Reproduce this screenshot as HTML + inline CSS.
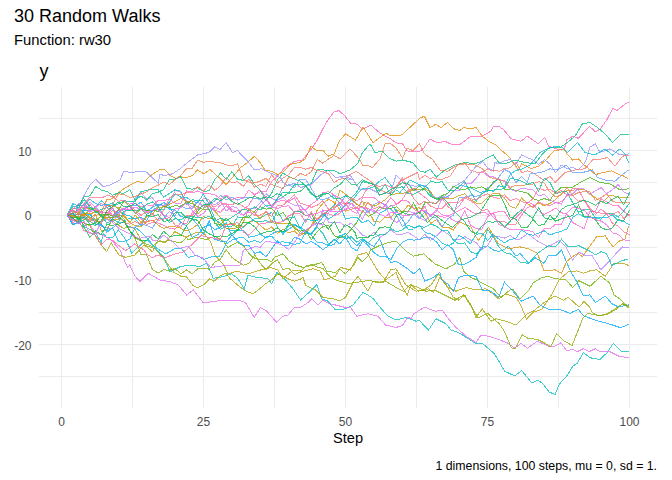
<!DOCTYPE html>
<html><head><meta charset="utf-8"><style>
html,body{margin:0;padding:0;background:#fff;}
body{width:672px;height:480px;position:relative;overflow:hidden;font-family:"Liberation Sans",sans-serif;}
.t{position:absolute;white-space:nowrap;color:#000;}
#title{left:14px;top:6px;font-size:18px;}
#sub{left:14px;top:32px;font-size:14.8px;}
#ylab{left:39.5px;top:61px;font-size:18px;}
#xlab{left:333px;top:430px;font-size:14.6px;}
#cap{right:15px;top:459px;font-size:12.3px;}
.yl{position:absolute;right:640.5px;width:40px;text-align:right;font-size:12px;color:#4D4D4D;line-height:14px;}
.xl{position:absolute;top:415px;width:40px;text-align:center;font-size:12px;color:#4D4D4D;line-height:14px;}
svg{position:absolute;left:0;top:0;}
</style></head><body>
<svg width="672" height="480" viewBox="0 0 672 480"><g stroke="#EBEBEB" stroke-width="1" shape-rendering="crispEdges"><line x1="61.5" y1="87" x2="61.5" y2="408"/><line x1="132.5" y1="87" x2="132.5" y2="408"/><line x1="203.5" y1="87" x2="203.5" y2="408"/><line x1="274.5" y1="87" x2="274.5" y2="408"/><line x1="345.5" y1="87" x2="345.5" y2="408"/><line x1="416.5" y1="87" x2="416.5" y2="408"/><line x1="487.5" y1="87" x2="487.5" y2="408"/><line x1="558.5" y1="87" x2="558.5" y2="408"/><line x1="629.5" y1="87" x2="629.5" y2="408"/><line x1="39" y1="118.5" x2="657" y2="118.5"/><line x1="39" y1="150.5" x2="657" y2="150.5"/><line x1="39" y1="182.5" x2="657" y2="182.5"/><line x1="39" y1="215.5" x2="657" y2="215.5"/><line x1="39" y1="247.5" x2="657" y2="247.5"/><line x1="39" y1="279.5" x2="657" y2="279.5"/><line x1="39" y1="312.5" x2="657" y2="312.5"/><line x1="39" y1="344.5" x2="657" y2="344.5"/><line x1="39" y1="376.5" x2="657" y2="376.5"/></g><g fill="none" stroke-width="1" stroke-opacity="0.75" shape-rendering="crispEdges"><polyline points="67.2,215.2 72.9,212.6 78.5,209.7 84.2,210.5 89.9,204.5 95.6,211.6 101.3,212.5 106.9,212.2 112.6,216.7 118.3,209.5 124.0,208.4 129.7,206.1 135.3,212.3 141.0,218.3 146.7,224.5 152.4,222.5 158.1,222.9 163.7,225.5 169.4,228.2 175.1,229.1 180.8,222.8 186.5,223.7 192.1,213.0 197.8,207.1 203.5,198.4 209.2,200.0 214.9,210.1 220.5,212.4 226.2,205.8 231.9,211.3 237.6,211.0 243.3,209.3 248.9,205.4 254.6,194.9 260.3,191.7 266.0,191.8 271.7,181.4 277.3,176.4 284.0,168.3 294.0,161.7 302.3,160.0 310.7,150.0 317.3,140.0 325.7,123.3 334.0,111.7 339.0,110.7 344.0,115.0 350.7,123.3 356.9,124.1 362.5,129.2 368.2,126.4 370.7,125.0 380.0,133.1 385.6,136.2 389.4,138.1 393.8,141.2 397.5,143.1 402.5,143.8 406.9,150.6 411.2,151.9 416.2,151.9 420.0,151.2 423.8,148.1 430.0,138.8 435.0,141.9 440.0,142.5 445.0,141.2 450.0,143.8 455.0,145.0 460.0,144.4 471.0,136.2 482.2,136.2 491.0,131.2 493.2,126.8 498.9,126.4 503.5,129.5 511.0,138.8 521.0,141.2 527.2,136.2 538.5,143.8 544.8,137.5 548.5,146.2 556.0,148.8 564.0,150.0 567.0,139.5 572.7,136.3 578.4,138.3 584.1,132.2 589.7,126.5 595.4,131.9 600.0,129.2 606.7,120.0 612.7,108.5 616.9,110.5 625.0,104.2 628.6,102.3" stroke="#FF62BC"/><polyline points="67.2,215.2 72.9,219.7 78.5,219.1 84.2,212.9 89.9,213.7 95.6,212.0 101.3,211.2 106.9,199.7 110.0,200.0 122.0,190.0 130.0,185.0 137.5,181.2 143.0,183.1 150.0,176.0 160.0,169.5 165.0,170.0 170.0,175.5 176.2,178.8 180.0,176.2 185.0,178.0 192.5,175.5 197.5,170.0 203.8,173.8 210.0,169.5 217.5,176.2 226.2,184.5 232.5,177.5 240.0,168.0 247.5,162.5 254.5,156.2 260.0,162.5 265.0,170.0 271.2,171.2 277.5,174.5 283.0,172.3 290.0,164.5 300.0,162.5 305.0,158.8 311.2,146.2 315.5,150.0 323.0,150.5 328.0,156.2 334.2,153.8 339.2,141.2 345.5,133.8 355.5,140.0 363.0,127.0 373.0,142.5 380.0,137.5 386.2,133.1 390.0,135.6 398.8,135.6 402.5,134.4 411.2,126.2 420.0,118.1 424.4,116.2 430.0,127.5 435.6,124.4 441.2,127.5 447.5,122.5 453.8,128.8 460.0,130.6 463.5,127.5 471.0,128.8 476.0,127.5 482.2,136.2 488.5,141.2 496.0,145.0 501.0,150.0 508.5,156.2 518.5,170.0 521.6,163.7 527.3,166.4 531.0,168.8 538.5,166.2 546.0,160.0 553.5,151.2 564.0,148.8 567.0,153.8 572.7,160.1 578.4,159.0 584.1,164.9 589.7,169.4 595.4,174.6 600.0,173.3 611.7,170.8 620.0,175.0 623.3,175.8 628.6,179.2" stroke="#E58700"/><polyline points="67.2,215.2 72.9,217.6 78.5,215.9 84.2,226.8 89.9,229.4 95.6,232.8 101.3,242.3 103.3,233.3 106.9,237.8 112.6,237.6 118.3,230.0 124.0,236.9 129.7,247.8 131.7,253.3 138.3,246.7 146.7,240.0 156.7,250.0 163.3,256.7 170.0,271.7 180.0,266.7 190.0,265.0 200.0,266.7 206.7,263.3 213.3,278.3 223.3,276.7 231.8,273.8 238.0,278.8 244.2,288.8 248.0,275.0 254.6,277.0 260.5,277.5 268.0,278.8 271.8,283.8 276.8,272.5 285.5,280.0 293.0,288.8 300.5,300.0 310.5,291.2 316.8,284.5 321.8,298.8 328.0,301.2 335.5,310.0 345.5,308.8 353.0,305.0 363.0,292.5 368.2,295.2 373.9,299.3 378.0,305.0 388.0,316.2 396.0,320.0 406.0,317.5 416.0,321.2 419.3,320.3 425.0,326.6 428.5,330.0 436.0,318.8 446.0,323.8 451.0,330.0 458.5,332.5 468.5,338.8 476.0,343.8 482.3,343.3 494.0,353.3 500.0,363.1 504.5,371.2 514.9,376.0 521.6,370.5 532.0,383.2 537.9,380.2 543.2,383.9 549.1,392.1 555.1,394.3 559.5,383.9 567.0,375.7 572.9,366.0 577.4,363.1 583.3,352.6 589.3,357.1 593.0,358.6 600.0,359.3 606.8,353.0 613.3,343.3 621.7,351.7 628.6,351.7" stroke="#00BFC4"/><polyline points="67.2,215.2 72.9,220.4 78.5,222.7 84.2,222.9 90.0,225.0 95.6,233.4 101.3,234.3 106.9,237.7 110.0,238.8 120.0,250.0 127.5,267.5 129.7,264.9 135.3,276.5 140.0,281.7 148.3,273.3 160.0,280.0 170.0,281.7 178.3,285.0 186.7,295.0 193.3,290.0 203.3,302.7 213.3,301.7 223.3,300.0 228.0,300.0 238.0,300.0 245.5,302.5 254.2,317.5 260.5,307.5 266.8,311.2 276.8,322.5 283.0,316.2 288.0,315.0 294.2,307.5 300.5,307.5 308.0,302.5 311.8,298.8 318.0,305.0 323.0,300.0 328.5,303.4 335.5,305.0 345.5,307.5 350.5,307.5 356.8,316.2 368.0,313.8 378.0,316.2 385.5,325.0 396.0,327.5 402.3,325.5 408.0,317.0 411.0,318.8 413.7,313.9 419.3,310.4 425.0,306.9 428.5,308.8 436.0,311.2 442.1,310.0 448.5,318.8 456.0,327.5 466.0,336.2 476.0,342.5 481.0,335.0 488.5,336.2 496.0,338.8 500.0,340.0 507.4,343.0 514.9,348.2 520.8,343.3 527.5,348.2 537.2,341.2 543.2,343.7 549.9,347.1 555.1,346.0 561.0,342.7 566.2,350.4 572.9,349.7 577.4,351.6 583.3,348.6 589.3,351.6 595.2,348.6 600.0,351.9 610.0,351.7 620.0,356.7 628.6,357.3" stroke="#E76BF3"/><polyline points="67.2,215.2 72.9,215.7 78.5,213.2 84.2,206.6 89.9,209.1 95.6,210.3 101.3,215.1 106.9,215.2 112.6,218.3 118.3,214.0 124.0,218.6 129.7,230.7 135.3,237.9 141.0,241.0 146.7,244.3 152.4,246.4 158.1,241.7 163.7,241.9 169.4,240.2 174.8,241.8 180.8,242.7 186.5,237.7 188.2,239.6 197.1,237.3 206.1,239.6 215.0,236.2 223.9,241.8 228.0,247.5 236.8,242.5 243.3,245.6 248.9,253.5 253.0,257.5 260.5,260.0 266.0,259.2 271.7,261.6 274.2,257.5 283.0,253.8 288.7,260.6 295.5,265.0 303.0,267.5 313.0,265.0 321.8,262.5 326.8,271.2 335.5,272.5 339.2,268.8 345.5,273.8 353.0,266.2 358.0,257.5 362.5,261.8 368.2,256.0 370.5,250.0 378.0,246.2 388.0,242.5 396.0,241.2 406.0,251.2 413.5,256.2 423.5,253.8 434.8,263.8 446.0,268.8 454.8,263.8 459.8,257.5 463.5,271.2 471.0,277.5 476.1,279.7 483.5,283.8 493.5,288.8 501.0,297.5 504.5,294.4 510.2,289.8 513.5,290.0 520.0,299.3 528.7,290.6 533.1,282.9 541.9,277.5 548.4,276.4 555.0,278.6 565.9,279.6 572.5,287.3 579.0,280.7 590.0,286.2 600.9,276.4 609.6,282.9 614.0,295.0 620.5,299.3 624.9,303.7 628.6,307.0" stroke="#6BB100"/><polyline points="67.2,215.2 72.9,215.8 78.5,216.8 84.2,219.8 89.9,216.4 95.6,210.0 101.3,217.6 106.9,218.5 112.6,221.0 118.3,225.3 124.0,228.4 129.7,226.1 135.3,229.5 141.0,240.0 145.8,246.2 152.5,251.8 158.1,239.5 163.7,242.8 165.9,241.8 174.8,231.7 186.0,237.3 194.9,232.9 203.8,232.9 210.5,241.8 215.0,255.2 223.9,265.2 228.0,273.8 236.8,271.2 248.0,273.8 254.6,271.8 260.5,270.0 270.5,267.5 278.0,270.0 283.0,278.8 293.0,270.0 303.0,271.2 313.0,268.8 320.5,271.2 324.2,280.0 335.5,276.2 340.5,267.5 350.5,270.0 358.0,255.0 366.8,252.5 378.0,271.2 385.5,280.0 396.0,272.5 401.0,285.0 407.2,295.0 411.0,285.0 418.5,291.2 428.5,288.8 433.5,292.5 439.8,277.5 448.5,287.5 456.0,291.2 466.0,287.5 476.0,290.0 486.0,288.8 493.2,293.9 498.5,298.8 506.0,293.8 516.0,297.5 520.0,303.7 526.6,319.0 533.1,312.4 541.9,309.2 552.8,292.8 559.3,279.6 568.1,272.0 576.8,270.9 583.4,273.1 589.9,270.9 596.5,269.8 605.2,276.4 614.0,263.3 622.7,263.3 628.6,265.4" stroke="#B79F00"/><polyline points="67.2,215.2 72.9,220.1 78.5,220.1 84.2,222.9 90.0,226.2 98.9,241.8 106.7,251.8 111.2,242.9 119.0,255.2 125.7,257.4 134.6,255.2 143.6,245.1 154.7,248.5 163.7,258.5 173.8,272.2 180.5,276.0 186.5,276.7 193.2,285.6 197.6,287.9 203.6,284.9 209.5,278.9 214.0,281.2 219.9,276.0 225.9,273.0 230.4,278.9 239.3,286.4 245.2,290.8 253.0,293.8 260.3,288.3 265.5,283.8 271.7,279.7 278.0,273.8 288.0,278.8 294.4,281.2 300.1,279.2 303.0,277.5 305.7,285.5 311.4,288.1 315.5,290.0 323.0,297.5 333.0,298.8 339.8,300.7 345.5,297.5 353.0,282.5 358.0,276.2 368.0,291.2 373.0,281.2 383.0,282.5 390.5,270.0 396.0,268.8 406.0,285.0 416.0,291.2 423.5,290.0 431.0,285.0 438.5,273.8 446.0,285.0 453.5,297.5 458.5,300.0 464.7,295.0 471.0,305.0 476.0,317.5 482.2,308.8 491.0,321.2 496.0,318.8 506.0,321.2 516.0,325.0 520.0,321.2 527.3,313.6 533.1,311.3 544.0,302.6 555.0,296.0 563.7,300.4 568.1,297.1 579.0,307.0 584.1,301.5 589.7,307.4 592.1,312.4 598.7,315.7 607.4,314.6 616.2,309.2 622.7,303.7 628.6,305.9" stroke="#A3A500"/><polyline points="67.2,215.2 72.9,218.8 78.5,205.2 84.2,213.5 89.9,214.8 95.6,219.3 101.3,224.6 106.9,231.0 112.6,217.3 118.3,212.4 124.0,209.6 129.7,205.4 135.3,205.8 141.0,202.1 146.7,211.2 152.4,207.5 158.1,204.0 163.7,205.6 169.4,209.0 175.1,209.9 180.8,216.6 186.5,217.7 192.1,218.4 197.8,225.1 203.5,234.3 209.2,220.7 214.9,239.3 220.5,241.3 226.2,242.1 231.9,235.0 237.6,241.4 243.3,245.1 248.9,245.5 254.6,253.4 260.3,251.8 266.0,257.1 271.7,248.9 277.3,240.9 283.0,245.8 288.7,245.5 294.4,237.3 300.1,239.2 305.7,243.8 311.4,241.5 317.1,245.0 322.8,249.7 328.5,245.9 334.1,244.4 339.8,236.4 345.5,233.5 351.2,239.9 356.9,246.0 362.5,239.3 368.2,243.2 373.9,246.7 379.6,238.5 385.3,253.6 390.9,262.7 396.0,261.2 406.0,267.5 413.5,273.8 419.8,268.8 424.8,281.2 433.5,277.5 439.8,272.5 442.1,280.4 447.7,283.9 453.5,291.2 458.5,277.5 466.0,275.0 476.0,276.2 482.2,290.0 491.0,291.2 498.5,297.5 504.5,282.2 511.0,288.8 521.0,301.2 533.1,296.0 539.7,304.8 548.4,309.2 559.3,309.2 570.3,313.5 572.7,311.9 578.4,309.5 583.4,315.7 592.1,319.0 598.7,321.2 607.4,323.4 614.0,325.5 620.5,327.7 628.6,324.5" stroke="#00A7FF"/><polyline points="67.2,215.2 72.9,203.8 78.5,205.8 84.2,205.6 89.9,199.2 95.6,203.5 101.3,205.3 106.9,204.0 112.6,208.5 118.3,218.0 124.0,220.8 129.7,218.3 135.3,218.6 141.0,217.3 146.7,220.5 152.4,210.7 158.1,206.2 163.7,202.5 169.4,206.2 175.1,217.3 180.8,222.2 186.5,226.0 192.1,237.5 197.8,234.6 203.5,227.6 209.2,224.6 214.9,229.7 220.5,227.2 226.2,222.7 231.9,236.1 237.6,230.2 243.3,230.4 248.9,237.3 254.6,236.1 260.3,234.2 266.0,238.0 271.7,234.0 277.3,231.1 283.0,232.2 288.7,229.4 294.4,225.2 300.1,227.3 305.7,230.6 311.4,235.5 317.1,242.3 322.8,243.0 328.5,245.4 334.1,239.0 339.8,244.0 345.5,237.0 351.2,247.3 356.9,251.0 362.5,241.1 368.2,245.4 373.9,252.7 379.6,256.3 385.3,256.5 390.9,259.7 396.6,248.6 402.3,242.6 408.0,239.2 413.7,240.1 419.3,239.8 425.0,237.2 430.7,238.0 436.4,241.7 442.1,249.7 447.7,244.6 453.5,250.0 458.5,265.0 466.0,263.8 476.0,257.5 481.0,247.5 487.5,245.8 493.5,250.0 498.9,251.4 504.5,249.5 508.5,246.2 516.0,256.2 520.0,253.4 528.7,263.3 535.3,257.8 544.0,263.3 548.4,255.6 555.7,255.7 561.5,250.1 570.3,270.9 576.8,281.8 583.4,296.0 590.0,294.9 595.4,302.6 605.2,296.0 611.8,303.7 618.4,307.0 628.6,304.8" stroke="#00B0F6"/><polyline points="67.2,215.2 72.9,213.9 78.5,215.2 84.2,209.1 89.9,212.2 95.6,206.6 101.3,213.6 106.9,214.8 112.6,221.9 118.3,214.3 124.0,207.9 129.7,210.6 135.3,198.4 141.0,192.6 146.7,199.5 152.4,197.6 158.1,205.7 163.7,205.3 169.4,203.4 175.1,190.3 180.8,192.3 186.5,201.0 192.1,207.2 197.8,202.0 203.5,205.8 209.2,202.1 214.9,204.9 220.5,200.7 226.2,211.1 231.9,206.4 237.6,208.2 243.3,215.7 248.9,209.0 254.6,208.9 260.3,202.7 266.0,193.7 271.7,198.7 277.3,200.2 283.0,197.2 288.7,202.5 294.4,205.2 300.1,205.4 305.7,211.1 311.4,218.2 317.1,226.7 322.8,209.4 328.5,222.5 334.1,222.6 339.8,222.3 345.5,226.5 351.2,223.0 356.9,228.8 362.5,235.2 368.2,237.4 373.9,232.5 379.6,237.5 385.3,233.9 390.9,229.7 396.6,234.5 402.3,234.3 408.0,232.5 413.7,236.0 419.3,239.7 425.0,234.3 430.7,240.5 436.4,235.9 442.1,230.5 447.7,233.8 453.4,239.5 459.1,240.0 464.8,236.6 470.5,240.0 476.1,242.5 481.8,249.6 487.5,245.9 493.2,235.8 498.9,236.8 504.5,238.0 510.2,235.4 515.9,239.7 520.0,239.2 527.7,233.7 539.7,242.5 548.4,246.9 559.3,240.3 565.9,246.9 572.5,260.0 579.0,252.3 585.6,255.6 592.1,255.6 600.9,269.8 607.4,263.3 616.2,253.4 622.7,246.9 628.6,248.0" stroke="#B983FF"/><polyline points="67.2,215.2 72.9,217.8 78.5,218.1 84.2,213.9 89.9,218.6 95.6,214.3 101.3,231.2 106.9,229.4 112.6,219.4 118.3,219.1 124.0,214.9 129.7,222.4 135.3,225.8 141.0,226.5 146.7,222.0 152.4,220.2 158.1,225.2 163.7,228.4 169.4,226.6 175.1,226.8 180.8,228.3 186.5,230.9 192.1,228.6 197.8,224.2 203.5,216.1 209.2,218.9 214.9,218.2 220.5,226.1 226.2,224.5 231.9,223.6 237.6,225.7 243.3,226.3 248.9,222.1 254.6,220.6 260.3,225.5 266.0,230.1 271.7,226.9 277.3,233.5 283.0,229.5 288.7,232.9 294.4,231.0 300.1,236.0 305.7,231.5 311.4,226.1 317.1,210.2 322.8,203.4 328.5,199.3 334.1,202.3 339.8,209.4 345.5,211.1 351.2,209.4 356.9,207.5 362.5,201.3 368.2,210.4 373.9,221.2 379.6,222.1 385.3,217.1 390.9,217.8 396.6,209.6 402.3,212.8 408.0,205.2 413.7,208.5 419.3,207.9 425.0,212.4 430.7,223.6 436.4,219.5 442.1,227.4 447.7,227.1 453.4,229.9 459.1,221.8 466.0,225.0 470.5,226.4 476.1,237.1 478.5,240.0 488.5,227.5 498.5,243.8 508.5,248.8 520.0,246.9 528.7,249.0 537.5,253.4 544.0,270.9 555.0,269.8 561.5,273.1 567.0,261.1 572.5,256.7 577.9,253.4 582.3,256.7 590.0,245.8 596.5,237.0 605.2,235.9 612.9,246.9 618.4,241.4 624.9,239.2 628.6,226.1" stroke="#D89000"/><polyline points="67.2,215.2 72.9,213.7 78.5,220.4 84.2,208.0 89.9,207.1 95.6,212.6 101.3,209.5 106.9,207.6 112.6,205.1 118.3,203.9 124.0,200.7 129.7,201.7 135.3,201.1 141.0,191.6 146.7,190.3 152.4,189.3 158.1,189.4 163.7,197.3 169.4,193.3 175.1,189.7 180.8,191.2 186.5,204.7 192.1,199.8 197.8,200.5 203.5,200.9 209.2,210.1 214.9,223.0 220.5,229.3 226.2,226.3 231.9,226.3 237.6,217.0 243.3,217.1 248.9,215.8 254.6,221.5 260.3,221.8 266.0,220.6 271.7,223.0 277.3,211.0 283.0,220.4 288.7,218.1 294.4,216.9 300.1,227.8 305.7,234.1 311.4,233.3 317.1,227.2 322.8,233.2 328.5,244.2 334.1,240.4 339.8,235.5 345.5,238.7 351.2,236.8 356.9,242.2 362.5,238.5 368.2,243.1 373.9,237.3 379.6,235.0 385.3,234.9 390.9,228.6 396.6,231.8 402.3,230.0 408.0,224.9 413.7,227.6 419.3,226.7 425.0,227.2 430.7,224.0 436.4,226.0 442.1,230.6 447.7,230.3 453.4,240.1 459.1,244.0 464.8,242.9 470.5,251.5 476.1,254.2 481.8,249.4 487.5,229.1 493.2,236.7 498.9,247.0 504.5,252.7 510.2,253.7 515.9,258.0 520.0,262.2 528.7,263.3 537.5,253.4 548.4,245.8 555.7,246.7 561.5,239.2 568.1,246.9 579.0,245.8 590.0,251.2 595.4,254.8 601.1,251.7 606.3,253.4 611.8,265.4 620.5,261.1 628.6,258.9" stroke="#00C0AF"/><polyline points="67.2,215.2 72.9,210.6 78.5,214.0 84.2,215.9 89.9,208.7 95.6,208.7 101.3,215.9 106.9,217.7 112.6,217.7 118.3,215.8 124.0,220.9 129.7,230.4 135.3,239.0 141.0,254.8 146.7,255.0 152.4,269.5 158.1,273.0 163.7,269.8 169.4,270.4 175.1,268.5 180.8,273.9 186.5,270.0 192.1,273.9 197.8,268.7 203.5,268.2 209.2,269.2 214.9,262.1 220.5,259.2 226.2,249.6 231.9,257.4 237.6,261.4 243.3,265.3 248.9,263.5 254.6,254.8 260.3,263.4 266.0,269.8 271.7,263.7 277.3,259.6 283.0,269.6 288.7,268.1 294.4,274.6 300.1,272.3 305.7,266.2 311.4,264.5 317.1,267.1 322.8,268.4 330.0,276.8 336.7,280.2 347.9,283.5 356.8,282.4 369.1,280.2 376.9,282.4 385.8,281.3 397.0,288.0 403.7,291.3 410.4,284.6 419.3,288.0 426.0,291.3 434.9,290.2 441.6,293.6 448.3,296.9 455.0,300.3 463.9,294.7 471.0,306.2 478.1,318.1 487.6,313.3 499.5,324.0 504.3,331.2 511.4,347.9 515.0,349.0 522.1,334.8 528.1,338.3 537.6,339.5 544.8,343.1 550.7,346.7 556.7,333.6 563.8,340.7 572.1,345.5 582.9,318.1 587.6,313.3 600.0,315.7 607.4,313.5 616.2,308.1 622.7,303.7 628.6,308.1" stroke="#8AAB00"/><polyline points="67.2,215.2 72.9,214.2 78.5,209.0 83.3,196.7 90.0,185.0 96.0,179.3 103.3,186.7 110.0,185.0 120.0,180.0 124.0,171.1 129.7,172.3 135.0,172.0 141.0,171.4 146.7,172.1 152.4,177.9 158.1,183.2 160.0,174.5 165.0,175.5 172.5,173.8 180.0,168.8 187.5,162.5 197.5,155.0 208.8,152.5 214.5,147.0 220.0,149.5 226.2,142.5 232.5,152.5 237.5,150.5 242.5,156.2 248.8,162.5 254.2,170.0 261.8,168.8 269.2,172.5 280.5,177.5 283.0,182.5 288.7,185.8 294.4,183.1 300.5,187.5 310.5,185.0 320.5,175.0 328.0,170.0 335.5,177.5 345.5,176.2 353.0,180.0 340.0,177.5 350.0,175.0 360.0,190.0 370.0,188.8 377.5,192.5 379.6,195.2 385.3,192.6 390.0,193.8 396.2,175.0 405.0,183.8 415.0,186.2 425.0,185.0 435.0,197.5 445.0,196.2 455.0,186.2 465.0,180.0 475.0,167.5 482.5,161.2 487.5,167.7 493.2,171.1 495.0,162.5 498.9,163.8 504.5,160.7 510.2,159.6 515.9,164.3 521.6,154.9 527.3,157.8 532.9,159.7 538.6,164.4 544.3,159.7 550.0,164.0 555.7,172.8 561.3,165.0 567.0,168.6 572.7,167.6 578.4,169.9 584.1,164.1 587.5,156.2 589.7,147.4 595.4,143.7 600.0,152.5 610.0,148.8 620.0,155.0 629.2,153.8" stroke="#9590FF"/><polyline points="67.2,215.2 72.9,206.3 78.5,205.9 84.2,197.0 89.9,195.9 95.6,186.5 101.3,190.0 106.9,191.5 112.6,195.2 118.3,192.8 124.0,193.2 129.7,189.8 135.3,200.1 141.0,196.0 146.7,200.2 152.4,193.6 158.1,192.2 163.7,189.5 169.4,179.3 175.1,179.2 180.8,176.9 186.5,188.3 192.1,189.2 197.8,187.9 203.5,191.5 209.2,190.7 214.9,179.4 220.5,173.0 226.2,179.3 231.9,171.8 237.6,179.4 243.3,180.3 248.9,175.6 254.6,184.7 260.3,190.1 266.0,201.0 271.7,193.2 277.3,180.0 283.0,173.1 288.7,176.6 294.4,178.9 300.1,181.2 305.7,185.6 311.4,183.4 317.1,169.9 322.8,169.8 328.5,170.9 334.1,170.5 340.0,173.8 350.0,170.0 357.5,163.8 362.5,152.5 370.0,143.8 375.0,152.5 382.5,151.2 390.0,158.8 396.6,161.1 402.5,160.0 412.5,162.5 420.0,171.2 425.0,172.3 430.7,169.2 432.5,172.5 436.4,177.0 442.1,172.2 445.0,170.0 455.0,165.0 465.0,162.5 475.0,163.8 480.7,161.7 487.5,157.8 493.2,154.8 498.9,162.9 505.0,163.8 515.0,160.0 525.0,162.5 535.0,163.8 542.5,153.8 550.0,147.5 560.0,147.5 567.5,142.5 575.0,136.2 582.5,123.8 590.0,122.5 597.5,127.5 605.0,133.8 612.5,142.5 620.0,135.0 628.6,134.5" stroke="#00BF7D"/><polyline points="67.2,215.2 72.9,225.1 78.5,222.6 84.2,210.6 89.9,210.9 95.6,206.6 101.3,200.8 106.9,205.4 112.6,202.9 118.3,209.3 124.0,214.5 129.7,215.9 135.3,219.1 141.0,225.8 146.7,214.4 152.4,210.8 158.1,209.9 163.7,210.0 169.4,201.8 175.1,194.1 180.8,197.1 186.5,197.3 192.1,201.3 197.8,202.7 203.5,193.9 209.2,204.5 214.9,219.3 220.5,223.5 226.2,228.1 231.9,231.0 237.6,230.4 243.3,227.1 248.9,222.7 254.6,218.4 260.3,218.2 266.0,214.5 271.7,212.6 277.3,227.0 283.0,234.5 288.7,225.7 294.4,224.1 300.1,229.0 305.7,219.2 311.4,220.2 317.1,220.5 322.8,213.5 328.5,219.1 334.1,215.5 340.0,210.0 345.5,205.3 352.5,200.0 356.9,194.4 362.5,188.4 365.0,188.8 372.5,187.5 379.6,181.1 385.0,177.5 392.5,187.5 400.0,192.5 410.0,180.0 417.5,183.8 427.5,187.5 432.5,197.5 440.0,200.0 450.0,195.0 460.0,185.0 470.0,187.5 480.0,192.5 490.0,190.0 493.2,191.6 498.9,185.8 504.5,187.0 510.2,174.2 515.9,170.4 522.5,168.8 530.0,165.0 540.0,152.5 547.5,148.8 555.0,146.2 562.5,147.5 567.5,152.5 577.5,142.5 585.0,152.5 595.0,155.0 605.0,148.8 612.5,155.0 620.0,148.8 625.0,153.8 628.6,162.5" stroke="#00BCD8"/><polyline points="67.2,215.2 72.9,212.5 78.5,212.7 84.2,218.8 89.9,219.2 95.6,221.4 101.3,222.0 106.9,215.2 112.6,210.7 118.3,216.5 124.0,222.2 129.7,224.1 135.3,221.6 141.0,224.1 146.7,221.2 152.4,220.6 158.1,219.3 163.7,209.8 169.4,197.9 175.1,193.9 180.8,194.9 186.5,192.6 192.1,191.7 197.8,186.9 203.5,190.9 209.2,185.0 214.9,190.3 220.5,185.7 226.2,177.5 231.9,182.7 237.6,181.7 243.3,186.4 248.9,179.0 254.6,187.4 260.3,184.2 266.0,186.3 271.7,174.5 277.3,183.2 283.0,178.2 288.7,174.4 294.4,167.6 300.1,167.2 305.7,169.2 311.4,167.4 317.1,170.5 322.8,171.4 328.5,173.8 334.1,182.4 339.8,179.2 345.5,178.5 347.5,176.2 356.2,171.2 365.0,177.5 368.2,179.5 373.9,183.8 380.0,190.0 390.0,193.8 400.0,181.2 407.5,177.5 417.5,172.5 419.3,179.2 425.0,175.2 430.7,178.9 432.5,177.5 440.0,180.0 450.0,176.2 457.5,165.0 464.8,163.0 470.0,170.0 477.5,172.5 481.8,172.4 487.5,169.0 490.0,170.0 500.0,171.2 504.5,168.4 510.2,167.9 515.9,161.9 521.6,172.7 527.3,170.8 532.9,172.8 538.6,176.5 544.3,180.8 550.0,176.1 555.0,182.5 565.0,172.5 575.0,170.0 585.0,168.8 592.5,160.0 602.5,158.8 607.5,157.5 615.0,166.2 622.5,156.2 628.6,155.0" stroke="#F8766D"/><polyline points="67.2,215.2 72.9,224.1 78.5,222.4 84.2,216.2 89.9,221.5 95.6,224.4 101.3,226.1 106.9,228.0 112.6,228.7 118.3,222.4 124.0,222.2 129.7,227.3 135.3,227.1 141.0,224.0 146.7,225.4 152.4,228.2 158.1,218.9 163.7,218.3 169.4,211.3 175.1,215.8 180.8,205.8 186.5,208.8 192.1,208.9 197.8,201.7 203.5,207.3 209.2,204.5 214.9,200.8 220.5,195.3 226.2,199.7 231.9,197.2 237.6,200.0 243.3,197.5 248.9,197.4 254.6,198.5 260.3,199.4 266.0,206.1 271.7,208.3 277.3,198.5 283.0,187.4 288.7,184.6 294.4,187.8 300.1,179.1 305.7,179.2 311.4,188.6 317.1,198.3 322.8,199.6 328.5,198.0 334.1,195.0 339.8,204.1 345.5,195.9 351.2,200.6 356.9,204.3 362.5,207.2 368.2,212.7 373.9,204.8 379.6,201.6 385.3,205.0 390.9,209.3 396.6,215.1 402.3,226.7 408.0,222.0 413.7,213.7 419.3,218.7 425.0,211.6 430.7,216.6 436.4,218.1 442.1,226.7 447.7,218.8 453.4,215.3 459.1,198.0 464.8,197.0 470.5,195.8 476.1,196.2 481.8,194.5 487.5,187.9 493.2,183.7 498.9,176.9 504.5,169.5 510.2,172.4 515.9,182.8 521.6,176.3 527.3,182.4 530.0,173.8 541.2,172.5 550.0,168.8 557.5,170.0 566.2,165.0 572.5,172.5 582.5,172.5 592.5,170.0 597.5,177.5 605.0,180.0 615.0,181.2 625.0,172.5 628.6,170.0" stroke="#619CFF"/><polyline points="67.2,215.2 72.9,218.1 78.5,217.5 84.2,225.3 89.9,224.5 95.6,223.1 101.3,215.0 106.9,214.1 112.6,215.8 118.3,210.2 124.0,201.0 129.7,206.4 135.3,213.6 141.0,208.8 146.7,210.6 152.4,210.3 158.1,211.4 163.7,206.5 169.4,207.4 175.1,205.5 180.8,206.4 186.5,201.8 192.1,203.6 197.8,206.9 203.5,209.8 209.2,209.3 214.9,223.3 220.5,224.9 226.2,218.0 231.9,224.3 237.6,227.6 243.3,217.0 248.9,217.6 254.6,211.1 260.3,206.8 266.0,209.1 271.7,208.3 277.3,215.6 283.0,212.3 288.7,220.6 294.4,228.6 300.1,231.2 305.7,230.4 311.4,239.7 317.1,231.7 322.8,226.6 328.5,225.3 334.1,235.5 339.8,238.0 345.5,235.8 351.2,229.2 356.9,222.3 362.5,210.7 368.2,216.2 373.9,213.7 379.6,207.3 385.3,208.8 390.9,208.2 396.6,206.9 402.3,212.0 408.0,211.4 413.7,203.1 419.3,213.7 425.0,202.6 430.7,203.0 436.4,203.1 442.1,195.5 447.7,193.5 453.4,186.1 459.1,189.0 464.8,189.5 470.5,187.0 476.1,188.3 481.8,186.7 487.5,190.3 493.2,182.3 498.9,178.5 504.5,189.9 510.2,188.9 515.9,190.4 521.6,191.7 527.3,193.0 532.9,198.6 538.6,200.6 544.3,198.6 550.0,200.5 555.0,192.5 561.3,187.5 567.5,187.5 572.7,187.2 580.0,182.5 590.0,177.5 600.0,182.5 610.0,183.8 620.0,190.0 628.6,188.8" stroke="#39B600"/><polyline points="67.2,215.2 72.9,216.6 78.5,217.1 84.2,213.5 89.9,217.5 95.6,220.0 101.3,223.8 106.9,210.8 112.6,206.3 118.3,207.5 124.0,216.6 129.7,222.6 135.3,215.2 141.0,222.5 146.7,216.6 152.4,214.3 158.1,207.2 163.7,206.9 169.4,204.3 175.1,201.7 180.8,198.5 186.5,201.5 192.1,200.9 197.8,213.9 203.5,208.5 209.2,205.3 214.9,211.2 220.5,217.5 226.2,228.5 231.9,228.2 237.6,229.4 243.3,222.1 248.9,208.8 254.6,212.8 260.3,218.9 266.0,211.1 271.7,222.6 277.3,223.7 283.0,223.9 288.7,223.3 294.4,226.7 300.1,233.1 305.7,233.6 311.4,225.7 317.1,218.9 322.8,215.5 328.5,210.0 334.1,206.7 340.0,190.0 350.0,197.5 356.9,204.3 362.5,207.2 365.0,202.5 375.0,206.2 385.0,200.0 390.9,194.4 397.5,193.8 407.5,192.5 415.0,188.8 422.5,190.0 425.0,188.7 430.7,192.1 435.0,198.8 442.5,198.8 452.5,198.8 459.1,195.6 464.8,193.8 470.5,199.6 476.1,203.0 481.8,203.0 487.5,197.5 493.2,193.3 498.9,193.5 504.5,198.1 510.2,206.5 515.9,208.3 521.6,198.1 527.3,203.4 532.9,207.4 538.6,202.9 544.3,206.0 550.0,203.3 555.7,199.5 562.5,192.5 567.0,190.8 572.7,191.0 575.0,188.8 585.0,190.0 595.0,197.5 602.5,202.5 610.0,195.0 620.0,197.5 628.6,197.5" stroke="#C99800"/><polyline points="67.2,215.2 72.9,217.1 78.5,213.6 84.2,214.7 89.9,221.9 95.6,215.4 101.3,214.0 106.9,205.1 112.6,205.1 118.3,193.9 124.0,194.3 129.7,197.5 135.3,196.2 141.0,193.9 146.7,191.9 152.4,187.5 158.1,185.3 163.7,182.1 169.4,184.7 175.1,179.5 180.8,175.3 186.5,168.8 192.1,168.4 197.8,160.0 203.5,162.4 209.2,161.2 214.9,162.1 220.5,162.9 226.2,164.9 231.9,165.6 237.6,163.8 243.3,179.7 248.9,182.0 254.6,182.9 260.3,181.1 266.0,178.3 271.7,184.7 277.3,186.3 283.0,188.7 288.7,177.1 294.4,178.5 300.1,173.5 305.7,175.5 311.4,171.9 317.1,159.6 322.8,163.1 328.5,159.0 334.1,155.5 340.0,158.8 350.0,148.8 360.0,160.0 362.5,165.3 368.2,165.6 372.5,167.5 380.0,158.8 385.0,143.8 390.0,143.1 396.2,148.1 402.5,158.1 406.9,148.1 413.1,150.6 419.4,143.8 424.4,153.8 432.5,159.4 440.0,170.0 447.5,171.2 457.5,165.0 465.0,163.8 475.0,165.0 482.5,168.8 490.0,177.5 500.0,180.0 504.5,180.3 510.2,187.6 515.9,185.0 521.6,185.2 527.3,184.9 532.9,184.1 538.6,181.6 544.3,183.1 550.0,192.3 555.7,197.0 561.3,195.0 567.0,187.4 572.7,195.6 578.4,192.5 584.1,191.8 589.7,191.7 595.4,200.4 601.1,197.7 606.8,193.9 612.5,201.3 618.1,202.8 623.8,202.8 629.5,202.2" stroke="#EF7F49"/><polyline points="67.2,215.2 72.9,210.3 78.5,211.9 84.2,202.8 89.9,211.8 95.6,210.0 101.3,211.2 106.9,213.5 112.6,207.8 118.3,216.8 124.0,213.9 129.7,204.0 135.3,203.4 141.0,206.6 146.7,204.7 152.4,206.1 158.1,200.4 163.7,200.5 169.4,199.4 175.1,203.2 180.8,203.3 186.5,190.8 192.1,192.9 197.8,190.9 203.5,193.4 209.2,193.6 214.9,194.9 220.5,199.0 226.2,194.9 231.9,200.0 237.6,197.1 243.3,198.4 248.9,190.0 254.6,194.9 260.3,190.1 266.0,197.3 271.7,207.0 277.3,201.4 283.0,200.6 288.7,201.6 294.4,197.7 300.1,209.4 305.7,209.6 311.4,204.3 317.1,200.5 322.8,192.9 328.5,191.7 334.1,195.0 339.8,198.2 345.5,203.8 351.2,210.5 356.9,213.7 362.5,198.0 368.2,197.4 373.9,197.5 379.6,202.1 385.3,205.4 390.9,197.6 396.6,204.3 402.3,200.2 408.0,201.2 415.0,210.0 419.3,212.3 425.0,206.3 427.5,213.8 435.0,215.0 445.0,217.5 455.0,212.5 465.0,207.5 475.0,213.8 485.0,212.5 487.5,214.3 493.2,213.3 500.0,211.2 504.5,211.6 510.2,220.4 515.9,217.8 521.6,212.1 527.3,202.0 532.9,204.3 538.6,210.6 544.3,214.5 550.0,211.5 555.7,208.0 561.3,212.7 567.0,214.1 572.7,222.5 578.4,225.6 584.1,229.0 589.7,211.5 595.4,211.7 601.1,198.7 606.8,202.0 612.5,205.4 618.1,205.4 623.8,211.4 629.5,215.8" stroke="#FD61D1"/><polyline points="67.2,215.2 72.9,217.8 78.5,223.1 84.2,227.4 89.9,237.2 95.6,231.0 101.3,234.6 106.9,224.8 112.6,225.2 118.3,224.5 124.0,221.3 129.7,230.9 135.3,237.0 141.0,240.3 146.7,240.5 152.4,234.4 158.1,239.1 163.7,231.2 169.4,236.4 175.1,235.8 180.8,235.9 186.5,225.8 192.1,219.0 197.8,220.3 203.5,230.1 209.2,233.8 214.9,236.6 220.5,235.9 226.2,236.8 231.9,233.7 237.6,230.1 243.3,222.4 248.9,222.6 254.6,226.7 260.3,234.0 266.0,232.0 271.7,231.1 277.3,227.9 283.0,232.1 288.7,224.3 294.4,211.3 300.1,211.6 305.7,215.6 311.4,213.9 317.1,223.8 322.8,222.9 328.5,228.9 334.1,221.6 340.0,232.5 345.5,224.5 351.2,228.1 355.0,232.5 356.9,238.1 362.5,237.5 368.2,237.7 370.0,235.0 373.9,235.3 379.6,227.6 385.3,226.9 390.0,227.5 396.6,215.4 402.5,212.5 410.0,215.0 420.0,212.5 427.5,222.5 435.0,215.0 445.0,222.5 452.5,227.5 460.0,220.0 470.0,217.5 480.0,212.5 490.0,196.2 500.0,195.0 504.5,204.1 510.2,217.2 515.9,219.2 521.6,227.7 527.3,227.7 532.9,219.5 538.6,225.4 544.3,224.4 550.0,215.2 555.7,221.3 561.3,218.7 567.0,216.9 572.7,215.5 578.4,205.0 584.1,216.7 589.7,216.4 595.4,219.7 601.1,227.7 606.8,229.9 612.5,227.7 618.1,219.6 623.8,220.6 629.5,210.0" stroke="#00BA38"/><polyline points="67.2,215.2 72.9,224.8 78.5,221.9 84.2,219.8 89.9,214.0 95.6,224.2 101.3,224.6 106.9,232.2 112.6,227.7 118.3,241.2 124.0,241.4 129.7,239.4 135.3,227.2 141.0,232.1 146.7,237.9 152.4,244.3 157.0,248.5 165.9,254.0 174.8,248.5 181.5,248.5 188.2,257.4 197.1,255.2 203.8,259.6 212.8,256.3 219.5,256.3 226.2,244.0 232.9,239.6 240.0,237.3 243.3,237.6 248.9,242.3 254.6,240.5 260.3,242.5 266.0,236.9 271.7,236.2 277.3,242.3 283.0,241.9 288.7,242.5 294.4,244.6 300.1,242.9 305.7,231.6 311.4,234.6 317.1,225.1 322.8,216.9 328.5,210.4 334.1,204.9 339.8,205.2 345.5,219.1 351.2,217.8 356.9,217.4 362.5,222.9 368.2,220.2 373.9,226.1 379.6,213.4 385.3,210.4 390.9,205.0 396.6,211.0 402.3,219.2 408.0,229.2 413.7,229.0 419.3,225.2 425.0,232.3 430.7,234.0 436.4,237.1 442.1,243.2 447.7,246.0 453.4,243.1 459.1,235.2 464.8,238.9 470.5,243.8 476.1,234.5 481.8,233.0 487.5,240.5 493.2,234.3 498.9,239.1 504.5,242.8 510.2,239.5 515.9,238.5 521.6,230.0 527.3,233.7 532.9,235.4 538.6,233.1 544.3,230.9 550.0,235.0 555.7,232.8 561.3,231.3 567.0,228.9 572.7,217.3 578.4,213.7 584.1,217.0 589.7,217.3 595.4,217.8 601.1,218.0 606.8,217.5 612.5,214.9 618.1,220.5 623.8,221.4 629.5,225.0" stroke="#00B7E9"/><polyline points="67.2,215.2 72.9,222.3 78.5,220.2 84.2,230.9 89.9,232.4 95.6,235.4 101.3,244.3 106.9,239.4 112.6,240.3 116.8,244.0 125.7,250.7 134.6,244.0 143.6,249.6 146.7,253.9 152.4,257.8 157.0,255.2 165.9,257.4 174.8,254.0 183.8,251.8 194.9,241.8 201.6,235.1 203.5,236.6 209.2,237.3 214.9,238.4 220.5,239.7 226.2,224.9 231.9,224.9 237.6,222.3 243.3,231.8 248.9,235.3 254.6,229.4 260.3,224.0 266.0,223.1 271.7,220.8 277.3,222.5 283.0,221.7 288.7,215.9 294.4,213.1 300.1,213.8 305.7,222.0 311.4,211.9 317.1,220.1 322.8,212.9 328.5,213.9 334.1,215.9 339.8,213.5 345.5,203.8 351.2,203.0 356.9,207.7 362.5,212.5 368.2,202.2 373.9,208.8 379.6,206.4 385.3,208.4 390.9,206.1 396.6,204.6 402.3,199.5 408.0,190.4 413.7,188.4 419.3,193.2 425.0,197.3 430.7,202.6 436.4,203.4 442.1,198.1 447.7,206.1 453.4,211.4 459.1,206.0 464.8,198.0 470.5,200.5 476.1,204.9 481.8,210.5 487.5,209.5 493.2,217.3 498.9,221.7 504.5,221.7 510.2,224.9 515.9,224.1 521.6,215.0 527.3,207.3 532.9,206.5 538.6,202.0 544.3,204.5 550.0,205.5 555.7,202.3 561.3,201.9 567.0,195.7 572.7,188.4 578.4,189.5 584.1,200.2 589.7,207.3 595.4,214.5 601.1,209.0 606.8,214.1 612.5,223.4 618.1,225.9 623.8,231.8 629.5,234.6" stroke="#FF67A4"/><polyline points="67.2,215.2 72.9,219.6 78.5,223.8 84.2,221.5 89.9,234.0 95.6,233.6 101.3,221.6 106.9,219.4 112.6,222.5 119.0,228.4 130.2,234.0 139.1,238.4 150.3,236.2 152.4,240.4 158.1,240.1 163.7,235.1 172.6,241.8 179.3,248.5 188.2,246.2 194.9,255.2 203.8,258.5 210.5,267.5 219.5,266.4 228.4,265.2 240.0,265.2 243.3,250.2 248.9,249.0 254.6,246.9 260.3,247.1 266.0,241.0 271.7,242.2 277.3,243.4 283.0,245.5 288.7,249.7 294.4,242.4 300.1,233.4 305.7,230.3 311.4,226.1 317.1,223.2 322.8,225.1 328.5,212.3 334.1,208.2 339.8,202.8 345.5,210.1 351.2,203.1 356.9,211.0 362.5,219.1 368.2,208.6 373.9,212.2 379.6,210.2 385.3,205.2 390.9,218.5 396.6,222.6 402.3,218.2 408.0,211.6 413.7,212.3 419.3,217.3 425.0,220.5 430.7,215.3 436.4,211.6 442.1,197.9 447.7,197.8 453.4,190.4 459.1,190.3 464.8,183.9 470.5,183.8 476.1,178.4 481.8,171.0 487.5,175.8 493.2,176.9 498.9,179.3 504.5,181.5 510.2,189.3 515.9,191.5 521.6,188.1 527.3,189.1 532.9,189.9 538.6,195.6 544.3,194.6 550.0,200.0 555.7,202.6 561.3,204.2 567.0,194.2 572.7,194.0 578.4,188.0 584.1,189.1 589.7,194.4 595.4,190.7 601.1,187.7 606.8,193.6 612.5,189.7 618.1,184.5 623.8,191.8 629.5,195.0" stroke="#D376FF"/><polyline points="67.2,215.2 72.9,209.1 78.5,207.4 84.2,199.6 89.9,206.7 95.6,211.5 101.3,215.5 106.9,223.3 112.6,219.2 118.3,222.5 124.0,211.1 129.7,210.3 135.3,210.4 141.0,209.4 146.7,204.2 152.4,202.0 158.1,206.2 163.7,215.7 169.4,222.5 175.1,218.7 180.8,219.7 186.5,216.5 192.1,216.6 197.8,217.4 203.5,218.2 209.2,216.1 214.9,221.2 220.5,218.1 226.2,220.8 231.9,217.3 237.6,213.4 243.3,209.0 248.9,210.6 254.6,206.9 260.3,209.9 266.0,205.1 271.7,205.5 277.3,199.1 283.0,192.0 288.7,192.6 294.4,185.0 300.1,184.1 305.7,185.4 311.4,192.6 317.1,199.6 322.8,194.8 328.5,193.3 334.1,198.7 339.8,198.7 345.5,195.6 351.2,197.7 356.9,191.8 362.5,181.5 368.2,182.9 373.9,184.6 379.6,191.1 385.3,184.6 390.9,195.2 396.6,188.2 402.3,186.7 408.0,193.7 413.7,194.3 419.3,191.3 425.0,187.1 430.7,181.0 436.4,182.6 442.1,181.6 447.7,190.0 453.4,191.1 459.1,186.7 464.8,181.7 470.5,192.1 476.1,201.4 481.8,193.6 487.5,191.0 493.2,190.1 498.9,189.6 504.5,188.5 510.2,178.7 515.9,179.2 521.6,181.1 527.3,184.4 532.9,182.5 538.6,191.0 544.3,178.1 550.0,182.6 555.7,193.6 561.3,192.0 567.0,191.9 572.7,202.8 578.4,212.3 584.1,209.7 589.7,209.3 595.4,218.1 601.1,219.2 606.8,213.0 612.5,213.0 618.1,217.3 623.8,210.8 629.5,203.3" stroke="#00C097"/><polyline points="67.2,215.2 72.9,208.0 78.5,210.0 84.2,203.9 89.9,197.1 95.6,197.9 101.3,198.0 106.9,195.6 112.6,196.3 118.3,201.2 124.0,200.6 129.7,204.7 135.3,210.5 141.0,215.4 146.7,211.8 152.4,213.8 158.1,220.4 163.7,219.2 169.4,217.5 175.1,225.0 180.8,227.4 186.5,216.0 192.1,215.8 197.8,208.7 203.5,205.9 209.2,204.2 214.9,206.7 220.5,202.8 226.2,205.0 231.9,204.5 237.6,202.7 243.3,206.5 248.9,209.6 254.6,215.9 260.3,215.1 266.0,211.7 271.7,216.9 277.3,205.1 283.0,205.3 288.7,199.9 294.4,194.9 300.1,203.0 305.7,204.7 311.4,207.4 317.1,205.4 322.8,200.8 328.5,209.2 334.1,209.3 339.8,202.2 345.5,204.1 351.2,197.6 356.9,201.0 362.5,196.6 368.2,186.6 373.9,184.5 379.6,186.6 385.3,184.5 390.9,187.6 396.6,187.7 402.3,177.7 408.0,188.0 413.7,198.6 419.3,204.8 425.0,200.8 430.7,206.3 436.4,208.4 442.1,208.4 447.7,203.0 453.4,202.6 459.1,202.0 464.8,197.2 470.5,198.7 476.1,199.7 481.8,196.1 487.5,193.8 493.2,197.0 498.9,198.7 504.5,194.7 510.2,200.9 515.9,198.5 521.6,201.5 527.3,203.3 532.9,198.8 538.6,188.1 544.3,190.3 550.0,189.2 555.7,193.5 561.3,190.5 567.0,195.0 572.7,195.6 578.4,201.1 584.1,200.0 589.7,209.3 595.4,212.3 601.1,213.1 606.8,213.5 612.5,214.6 618.1,211.2 623.8,218.6 629.5,214.0" stroke="#FE6E8A"/><polyline points="67.2,215.2 72.9,213.3 78.5,219.0 84.2,216.8 89.9,224.0 95.6,225.4 101.3,220.6 106.9,211.1 112.6,206.5 118.3,202.1 124.0,206.6 129.7,206.3 135.3,203.4 141.0,208.5 146.7,215.1 152.4,216.6 158.1,214.6 163.7,221.3 169.4,220.5 175.1,212.8 180.8,212.2 186.5,217.8 192.1,218.6 197.8,211.0 203.5,204.4 209.2,204.2 214.9,198.3 220.5,200.8 226.2,196.6 231.9,201.2 237.6,204.5 243.3,201.2 248.9,198.0 254.6,196.5 260.3,198.7 266.0,196.9 271.7,197.4 277.3,193.5 283.0,196.4 288.7,193.1 294.4,192.4 300.1,191.6 305.7,186.2 311.4,194.4 317.1,196.7 322.8,193.9 328.5,193.3 334.1,188.1 339.8,184.7 345.5,178.6 351.2,184.2 356.9,185.1 362.5,179.8 368.2,182.5 373.9,184.5 379.6,195.3 385.3,193.2 390.9,189.6 396.6,186.5 402.3,182.9 408.0,183.8 413.7,190.8 419.3,185.8 425.0,190.0 430.7,196.3 436.4,199.2 442.1,197.0 447.7,202.7 453.4,210.5 459.1,216.3 464.8,221.9 470.5,230.9 476.1,233.8 481.8,226.0 487.5,221.6 493.2,222.2 498.9,221.3 504.5,226.9 510.2,221.2 515.9,214.4 521.6,209.8 527.3,214.4 532.9,218.3 538.6,207.7 544.3,217.8 550.0,219.2 555.7,218.5 561.3,209.6 567.0,205.9 572.7,204.6 578.4,202.3 584.1,200.3 589.7,202.2 595.4,205.4 601.1,201.2 606.8,203.6 612.5,199.3 618.1,196.5 623.8,204.8 629.5,192.5" stroke="#00BD5F"/><polyline points="67.2,215.2 72.9,209.3 78.5,203.8 84.2,208.4 89.9,202.0 95.6,207.2 101.3,203.5 106.9,206.8 112.6,215.9 118.3,210.8 124.0,209.1 129.7,210.0 135.3,207.0 141.0,209.6 146.7,211.9 152.4,210.2 158.1,209.4 163.7,215.1 169.4,217.7 175.1,208.8 180.8,207.8 186.5,202.4 192.1,210.4 197.8,216.5 203.5,213.4 209.2,206.4 214.9,211.0 220.5,205.1 226.2,203.4 231.9,209.3 237.6,213.2 243.3,215.1 248.9,211.8 254.6,214.8 260.3,205.7 266.0,200.0 271.7,206.5 277.3,208.6 283.0,206.3 288.7,205.9 294.4,212.3 300.1,209.5 305.7,215.6 311.4,214.4 317.1,213.6 322.8,210.6 328.5,210.8 334.1,211.4 339.8,211.8 345.5,209.3 351.2,207.6 356.9,208.8 362.5,207.4 368.2,208.8 373.9,210.3 379.6,214.0 385.3,216.8 390.9,212.3 396.6,212.3 402.3,215.2 408.0,215.4 413.7,214.0 419.3,211.4 425.0,210.3 430.7,215.7 436.4,209.3 442.1,214.9 447.7,215.6 453.4,220.6 459.1,222.3 464.8,210.7 470.5,225.2 476.1,228.5 481.8,229.7 487.5,216.6 493.2,212.7 498.9,224.7 504.5,226.6 510.2,229.5 515.9,229.7 521.6,229.7 527.3,230.5 532.9,231.7 538.6,237.4 544.3,228.6 550.0,228.9 555.7,224.1 561.3,224.1 567.0,212.9 572.7,207.2 578.4,208.5 584.1,209.7 589.7,216.8 595.4,219.4 601.1,221.2 606.8,224.8 612.5,232.9 618.1,234.3 623.8,239.8 629.5,241.0" stroke="#F564E3"/></g></svg>
<div class="t" id="title">30 Random Walks</div>
<div class="t" id="sub">Function: rw30</div>
<div class="t" id="ylab">y</div>
<div class="t" id="xlab">Step</div>
<div class="t" id="cap">1 dimensions, 100 steps, mu = 0, sd = 1.</div>
<div class="yl" style="top:144.5px">10</div><div class="yl" style="top:209.2px">0</div><div class="yl" style="top:273.8px">-10</div><div class="yl" style="top:338.5px">-20</div><div class="xl" style="left:41.5px">0</div><div class="xl" style="left:183.5px">25</div><div class="xl" style="left:325.5px">50</div><div class="xl" style="left:467.5px">75</div><div class="xl" style="left:609.5px">100</div>
</body></html>
